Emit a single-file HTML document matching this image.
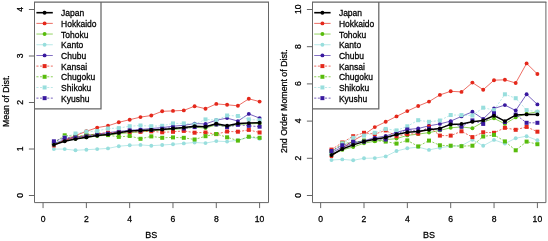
<!DOCTYPE html>
<html><head><meta charset="utf-8"><title>chart</title>
<style>
html,body{margin:0;padding:0;background:#fff;}
body{width:548px;height:241px;overflow:hidden;}
svg{display:block;will-change:transform;font-family:"Liberation Sans",sans-serif;fill:#000;} text{stroke:#000;stroke-width:0.26px;}
</style></head><body>
<svg width="548" height="241" viewBox="0 0 548 241">
<rect width="548" height="241" fill="#fff"/>
<polyline points="53.9,145.7 64.7,140.2 75.5,135.5 86.4,131.3 97.2,127.6 108.0,125.8 118.8,122.3 129.7,119.7 140.5,117.1 151.3,115.5 162.2,111.3 173.0,110.9 183.8,110.4 194.6,106.2 205.5,108.7 216.3,103.9 227.1,104.8 237.9,105.8 248.8,98.8 259.6,101.6" fill="none" stroke="#E4281B" stroke-width="0.8" opacity="0.85"/>
<circle cx="53.9" cy="145.7" r="1.95" fill="#E4281B"/>
<circle cx="64.7" cy="140.2" r="1.95" fill="#E4281B"/>
<circle cx="75.5" cy="135.5" r="1.95" fill="#E4281B"/>
<circle cx="86.4" cy="131.3" r="1.95" fill="#E4281B"/>
<circle cx="97.2" cy="127.6" r="1.95" fill="#E4281B"/>
<circle cx="108.0" cy="125.8" r="1.95" fill="#E4281B"/>
<circle cx="118.8" cy="122.3" r="1.95" fill="#E4281B"/>
<circle cx="129.7" cy="119.7" r="1.95" fill="#E4281B"/>
<circle cx="140.5" cy="117.1" r="1.95" fill="#E4281B"/>
<circle cx="151.3" cy="115.5" r="1.95" fill="#E4281B"/>
<circle cx="162.2" cy="111.3" r="1.95" fill="#E4281B"/>
<circle cx="173.0" cy="110.9" r="1.95" fill="#E4281B"/>
<circle cx="183.8" cy="110.4" r="1.95" fill="#E4281B"/>
<circle cx="194.6" cy="106.2" r="1.95" fill="#E4281B"/>
<circle cx="205.5" cy="108.7" r="1.95" fill="#E4281B"/>
<circle cx="216.3" cy="103.9" r="1.95" fill="#E4281B"/>
<circle cx="227.1" cy="104.8" r="1.95" fill="#E4281B"/>
<circle cx="237.9" cy="105.8" r="1.95" fill="#E4281B"/>
<circle cx="248.8" cy="98.8" r="1.95" fill="#E4281B"/>
<circle cx="259.6" cy="101.6" r="1.95" fill="#E4281B"/>
<polyline points="53.9,144.3 64.7,140.6 75.5,138.8 86.4,137.4 97.2,136.0 108.0,135.1 118.8,133.7 129.7,132.7 140.5,131.8 151.3,130.9 162.2,129.9 173.0,129.5 183.8,128.5 194.6,127.1 205.5,128.1 216.3,124.8 227.1,126.7 237.9,124.4 248.8,123.9 259.6,123.4" fill="none" stroke="#58BC0C" stroke-width="0.8" opacity="0.85"/>
<circle cx="53.9" cy="144.3" r="1.95" fill="#58BC0C"/>
<circle cx="64.7" cy="140.6" r="1.95" fill="#58BC0C"/>
<circle cx="75.5" cy="138.8" r="1.95" fill="#58BC0C"/>
<circle cx="86.4" cy="137.4" r="1.95" fill="#58BC0C"/>
<circle cx="97.2" cy="136.0" r="1.95" fill="#58BC0C"/>
<circle cx="108.0" cy="135.1" r="1.95" fill="#58BC0C"/>
<circle cx="118.8" cy="133.7" r="1.95" fill="#58BC0C"/>
<circle cx="129.7" cy="132.7" r="1.95" fill="#58BC0C"/>
<circle cx="140.5" cy="131.8" r="1.95" fill="#58BC0C"/>
<circle cx="151.3" cy="130.9" r="1.95" fill="#58BC0C"/>
<circle cx="162.2" cy="129.9" r="1.95" fill="#58BC0C"/>
<circle cx="173.0" cy="129.5" r="1.95" fill="#58BC0C"/>
<circle cx="183.8" cy="128.5" r="1.95" fill="#58BC0C"/>
<circle cx="194.6" cy="127.1" r="1.95" fill="#58BC0C"/>
<circle cx="205.5" cy="128.1" r="1.95" fill="#58BC0C"/>
<circle cx="216.3" cy="124.8" r="1.95" fill="#58BC0C"/>
<circle cx="227.1" cy="126.7" r="1.95" fill="#58BC0C"/>
<circle cx="237.9" cy="124.4" r="1.95" fill="#58BC0C"/>
<circle cx="248.8" cy="123.9" r="1.95" fill="#58BC0C"/>
<circle cx="259.6" cy="123.4" r="1.95" fill="#58BC0C"/>
<polyline points="53.9,149.1 64.7,149.1 75.5,150.3 86.4,149.7 97.2,149.1 108.0,148.4 118.8,146.2 129.7,145.3 140.5,144.9 151.3,145.7 162.2,145.0 173.0,144.3 183.8,143.4 194.6,142.5 205.5,143.1 216.3,141.1 227.1,141.6 237.9,140.3 248.8,137.0 259.6,138.7" fill="none" stroke="#98DEDD" stroke-width="0.8" opacity="0.85"/>
<circle cx="53.9" cy="149.1" r="1.95" fill="#98DEDD"/>
<circle cx="64.7" cy="149.1" r="1.95" fill="#98DEDD"/>
<circle cx="75.5" cy="150.3" r="1.95" fill="#98DEDD"/>
<circle cx="86.4" cy="149.7" r="1.95" fill="#98DEDD"/>
<circle cx="97.2" cy="149.1" r="1.95" fill="#98DEDD"/>
<circle cx="108.0" cy="148.4" r="1.95" fill="#98DEDD"/>
<circle cx="118.8" cy="146.2" r="1.95" fill="#98DEDD"/>
<circle cx="129.7" cy="145.3" r="1.95" fill="#98DEDD"/>
<circle cx="140.5" cy="144.9" r="1.95" fill="#98DEDD"/>
<circle cx="151.3" cy="145.7" r="1.95" fill="#98DEDD"/>
<circle cx="162.2" cy="145.0" r="1.95" fill="#98DEDD"/>
<circle cx="173.0" cy="144.3" r="1.95" fill="#98DEDD"/>
<circle cx="183.8" cy="143.4" r="1.95" fill="#98DEDD"/>
<circle cx="194.6" cy="142.5" r="1.95" fill="#98DEDD"/>
<circle cx="205.5" cy="143.1" r="1.95" fill="#98DEDD"/>
<circle cx="216.3" cy="141.1" r="1.95" fill="#98DEDD"/>
<circle cx="227.1" cy="141.6" r="1.95" fill="#98DEDD"/>
<circle cx="237.9" cy="140.3" r="1.95" fill="#98DEDD"/>
<circle cx="248.8" cy="137.0" r="1.95" fill="#98DEDD"/>
<circle cx="259.6" cy="138.7" r="1.95" fill="#98DEDD"/>
<polyline points="53.9,143.4 64.7,139.7 75.5,137.4 86.4,135.5 97.2,134.1 108.0,132.7 118.8,131.3 129.7,130.4 140.5,129.5 151.3,128.5 162.2,127.6 173.0,126.2 183.8,125.3 194.6,123.6 205.5,123.9 216.3,120.2 227.1,118.1 237.9,121.1 248.8,113.9 259.6,118.1" fill="none" stroke="#39199F" stroke-width="0.8" opacity="0.85"/>
<circle cx="53.9" cy="143.4" r="1.95" fill="#39199F"/>
<circle cx="64.7" cy="139.7" r="1.95" fill="#39199F"/>
<circle cx="75.5" cy="137.4" r="1.95" fill="#39199F"/>
<circle cx="86.4" cy="135.5" r="1.95" fill="#39199F"/>
<circle cx="97.2" cy="134.1" r="1.95" fill="#39199F"/>
<circle cx="108.0" cy="132.7" r="1.95" fill="#39199F"/>
<circle cx="118.8" cy="131.3" r="1.95" fill="#39199F"/>
<circle cx="129.7" cy="130.4" r="1.95" fill="#39199F"/>
<circle cx="140.5" cy="129.5" r="1.95" fill="#39199F"/>
<circle cx="151.3" cy="128.5" r="1.95" fill="#39199F"/>
<circle cx="162.2" cy="127.6" r="1.95" fill="#39199F"/>
<circle cx="173.0" cy="126.2" r="1.95" fill="#39199F"/>
<circle cx="183.8" cy="125.3" r="1.95" fill="#39199F"/>
<circle cx="194.6" cy="123.6" r="1.95" fill="#39199F"/>
<circle cx="205.5" cy="123.9" r="1.95" fill="#39199F"/>
<circle cx="216.3" cy="120.2" r="1.95" fill="#39199F"/>
<circle cx="227.1" cy="118.1" r="1.95" fill="#39199F"/>
<circle cx="237.9" cy="121.1" r="1.95" fill="#39199F"/>
<circle cx="248.8" cy="113.9" r="1.95" fill="#39199F"/>
<circle cx="259.6" cy="118.1" r="1.95" fill="#39199F"/>
<polyline points="53.9,145.3 64.7,140.2 75.5,137.4 86.4,135.5 97.2,133.7 108.0,132.7 118.8,132.3 129.7,131.8 140.5,131.8 151.3,131.3 162.2,132.3 173.0,131.8 183.8,130.9 194.6,132.7 205.5,132.5 216.3,134.1 227.1,131.5 237.9,131.7 248.8,129.9 259.6,132.5" fill="none" stroke="#E4281B" stroke-width="0.85" stroke-dasharray="2.1 1.5" opacity="0.8"/>
<rect x="51.9" y="143.3" width="4" height="4" fill="#E4281B"/>
<rect x="62.7" y="138.2" width="4" height="4" fill="#E4281B"/>
<rect x="73.5" y="135.4" width="4" height="4" fill="#E4281B"/>
<rect x="84.4" y="133.5" width="4" height="4" fill="#E4281B"/>
<rect x="95.2" y="131.7" width="4" height="4" fill="#E4281B"/>
<rect x="106.0" y="130.7" width="4" height="4" fill="#E4281B"/>
<rect x="116.8" y="130.3" width="4" height="4" fill="#E4281B"/>
<rect x="127.7" y="129.8" width="4" height="4" fill="#E4281B"/>
<rect x="138.5" y="129.8" width="4" height="4" fill="#E4281B"/>
<rect x="149.3" y="129.3" width="4" height="4" fill="#E4281B"/>
<rect x="160.2" y="130.3" width="4" height="4" fill="#E4281B"/>
<rect x="171.0" y="129.8" width="4" height="4" fill="#E4281B"/>
<rect x="181.8" y="128.9" width="4" height="4" fill="#E4281B"/>
<rect x="192.6" y="130.7" width="4" height="4" fill="#E4281B"/>
<rect x="203.5" y="130.5" width="4" height="4" fill="#E4281B"/>
<rect x="214.3" y="132.1" width="4" height="4" fill="#E4281B"/>
<rect x="225.1" y="129.5" width="4" height="4" fill="#E4281B"/>
<rect x="235.9" y="129.7" width="4" height="4" fill="#E4281B"/>
<rect x="246.8" y="127.9" width="4" height="4" fill="#E4281B"/>
<rect x="257.6" y="130.5" width="4" height="4" fill="#E4281B"/>
<polyline points="53.9,143.0 64.7,135.3 75.5,136.4 86.4,135.1 97.2,134.1 108.0,135.1 118.8,136.9 129.7,136.0 140.5,138.8 151.3,136.4 162.2,137.8 173.0,137.4 183.8,137.8 194.6,139.5 205.5,136.2 216.3,134.0 227.1,137.3 237.9,140.6 248.8,136.7 259.6,137.8" fill="none" stroke="#58BC0C" stroke-width="0.85" stroke-dasharray="2.1 1.5" opacity="0.8"/>
<rect x="51.9" y="141.0" width="4" height="4" fill="#58BC0C"/>
<rect x="62.7" y="133.3" width="4" height="4" fill="#58BC0C"/>
<rect x="73.5" y="134.4" width="4" height="4" fill="#58BC0C"/>
<rect x="84.4" y="133.1" width="4" height="4" fill="#58BC0C"/>
<rect x="95.2" y="132.1" width="4" height="4" fill="#58BC0C"/>
<rect x="106.0" y="133.1" width="4" height="4" fill="#58BC0C"/>
<rect x="116.8" y="134.9" width="4" height="4" fill="#58BC0C"/>
<rect x="127.7" y="134.0" width="4" height="4" fill="#58BC0C"/>
<rect x="138.5" y="136.8" width="4" height="4" fill="#58BC0C"/>
<rect x="149.3" y="134.4" width="4" height="4" fill="#58BC0C"/>
<rect x="160.2" y="135.8" width="4" height="4" fill="#58BC0C"/>
<rect x="171.0" y="135.4" width="4" height="4" fill="#58BC0C"/>
<rect x="181.8" y="135.8" width="4" height="4" fill="#58BC0C"/>
<rect x="192.6" y="137.5" width="4" height="4" fill="#58BC0C"/>
<rect x="203.5" y="134.2" width="4" height="4" fill="#58BC0C"/>
<rect x="214.3" y="132.0" width="4" height="4" fill="#58BC0C"/>
<rect x="225.1" y="135.3" width="4" height="4" fill="#58BC0C"/>
<rect x="235.9" y="138.6" width="4" height="4" fill="#58BC0C"/>
<rect x="246.8" y="134.7" width="4" height="4" fill="#58BC0C"/>
<rect x="257.6" y="135.8" width="4" height="4" fill="#58BC0C"/>
<polyline points="53.9,144.3 64.7,137.4 75.5,133.5 86.4,131.6 97.2,131.0 108.0,128.5 118.8,128.1 129.7,126.2 140.5,125.5 151.3,126.2 162.2,125.8 173.0,123.4 183.8,123.4 194.6,124.4 205.5,119.4 216.3,120.2 227.1,115.5 237.9,116.0 248.8,119.4 259.6,120.2" fill="none" stroke="#98DEDD" stroke-width="0.85" stroke-dasharray="2.1 1.5" opacity="0.8"/>
<rect x="51.9" y="142.3" width="4" height="4" fill="#98DEDD"/>
<rect x="62.7" y="135.4" width="4" height="4" fill="#98DEDD"/>
<rect x="73.5" y="131.5" width="4" height="4" fill="#98DEDD"/>
<rect x="84.4" y="129.6" width="4" height="4" fill="#98DEDD"/>
<rect x="95.2" y="129.0" width="4" height="4" fill="#98DEDD"/>
<rect x="106.0" y="126.5" width="4" height="4" fill="#98DEDD"/>
<rect x="116.8" y="126.1" width="4" height="4" fill="#98DEDD"/>
<rect x="127.7" y="124.2" width="4" height="4" fill="#98DEDD"/>
<rect x="138.5" y="123.5" width="4" height="4" fill="#98DEDD"/>
<rect x="149.3" y="124.2" width="4" height="4" fill="#98DEDD"/>
<rect x="160.2" y="123.8" width="4" height="4" fill="#98DEDD"/>
<rect x="171.0" y="121.4" width="4" height="4" fill="#98DEDD"/>
<rect x="181.8" y="121.4" width="4" height="4" fill="#98DEDD"/>
<rect x="192.6" y="122.4" width="4" height="4" fill="#98DEDD"/>
<rect x="203.5" y="117.4" width="4" height="4" fill="#98DEDD"/>
<rect x="214.3" y="118.2" width="4" height="4" fill="#98DEDD"/>
<rect x="225.1" y="113.5" width="4" height="4" fill="#98DEDD"/>
<rect x="235.9" y="114.0" width="4" height="4" fill="#98DEDD"/>
<rect x="246.8" y="117.4" width="4" height="4" fill="#98DEDD"/>
<rect x="257.6" y="118.2" width="4" height="4" fill="#98DEDD"/>
<polyline points="53.9,141.3 64.7,137.8 75.5,137.5 86.4,136.4 97.2,135.1 108.0,133.7 118.8,132.3 129.7,130.4 140.5,130.4 151.3,130.0 162.2,128.7 173.0,127.6 183.8,128.5 194.6,127.1 205.5,126.2 216.3,124.4 227.1,127.1 237.9,124.8 248.8,125.8 259.6,126.7" fill="none" stroke="#39199F" stroke-width="0.85" stroke-dasharray="2.1 1.5" opacity="0.8"/>
<rect x="51.9" y="139.3" width="4" height="4" fill="#39199F"/>
<rect x="62.7" y="135.8" width="4" height="4" fill="#39199F"/>
<rect x="73.5" y="135.5" width="4" height="4" fill="#39199F"/>
<rect x="84.4" y="134.4" width="4" height="4" fill="#39199F"/>
<rect x="95.2" y="133.1" width="4" height="4" fill="#39199F"/>
<rect x="106.0" y="131.7" width="4" height="4" fill="#39199F"/>
<rect x="116.8" y="130.3" width="4" height="4" fill="#39199F"/>
<rect x="127.7" y="128.4" width="4" height="4" fill="#39199F"/>
<rect x="138.5" y="128.4" width="4" height="4" fill="#39199F"/>
<rect x="149.3" y="128.0" width="4" height="4" fill="#39199F"/>
<rect x="160.2" y="126.7" width="4" height="4" fill="#39199F"/>
<rect x="171.0" y="125.6" width="4" height="4" fill="#39199F"/>
<rect x="181.8" y="126.5" width="4" height="4" fill="#39199F"/>
<rect x="192.6" y="125.1" width="4" height="4" fill="#39199F"/>
<rect x="203.5" y="124.2" width="4" height="4" fill="#39199F"/>
<rect x="214.3" y="122.4" width="4" height="4" fill="#39199F"/>
<rect x="225.1" y="125.1" width="4" height="4" fill="#39199F"/>
<rect x="235.9" y="122.8" width="4" height="4" fill="#39199F"/>
<rect x="246.8" y="123.8" width="4" height="4" fill="#39199F"/>
<rect x="257.6" y="124.7" width="4" height="4" fill="#39199F"/>
<polyline points="53.9,144.8 64.7,141.3 75.5,139.1 86.4,137.2 97.2,135.6 108.0,134.4 118.8,132.7 129.7,131.1 140.5,130.6 151.3,130.0 162.2,129.5 173.0,128.5 183.8,127.6 194.6,126.2 205.5,126.7 216.3,123.7 227.1,125.8 237.9,123.4 248.8,123.1 259.6,122.8" fill="none" stroke="#000000" stroke-width="1.5" stroke-linejoin="round"/>
<circle cx="53.9" cy="144.8" r="1.95" fill="#000000"/>
<circle cx="64.7" cy="141.3" r="1.95" fill="#000000"/>
<circle cx="75.5" cy="139.1" r="1.95" fill="#000000"/>
<circle cx="86.4" cy="137.2" r="1.95" fill="#000000"/>
<circle cx="97.2" cy="135.6" r="1.95" fill="#000000"/>
<circle cx="108.0" cy="134.4" r="1.95" fill="#000000"/>
<circle cx="118.8" cy="132.7" r="1.95" fill="#000000"/>
<circle cx="129.7" cy="131.1" r="1.95" fill="#000000"/>
<circle cx="140.5" cy="130.6" r="1.95" fill="#000000"/>
<circle cx="151.3" cy="130.0" r="1.95" fill="#000000"/>
<circle cx="162.2" cy="129.5" r="1.95" fill="#000000"/>
<circle cx="173.0" cy="128.5" r="1.95" fill="#000000"/>
<circle cx="183.8" cy="127.6" r="1.95" fill="#000000"/>
<circle cx="194.6" cy="126.2" r="1.95" fill="#000000"/>
<circle cx="205.5" cy="126.7" r="1.95" fill="#000000"/>
<circle cx="216.3" cy="123.7" r="1.95" fill="#000000"/>
<circle cx="227.1" cy="125.8" r="1.95" fill="#000000"/>
<circle cx="237.9" cy="123.4" r="1.95" fill="#000000"/>
<circle cx="248.8" cy="123.1" r="1.95" fill="#000000"/>
<circle cx="259.6" cy="122.8" r="1.95" fill="#000000"/>
<rect x="34.50" y="2.0" width="66.50" height="106.90" fill="#fff" stroke="none"/>
<path d="M101.00,2.0 V108.90 H34.50" fill="none" stroke="#666" stroke-width="1.25"/>
<line x1="36.4" y1="12.70" x2="52.8" y2="12.70" stroke="#000000" stroke-width="1.6"/>
<circle cx="44.60" cy="12.70" r="1.95" fill="#000000"/>
<text x="61.10" y="16.25" font-size="8.5">Japan</text>
<line x1="36.4" y1="23.38" x2="52.8" y2="23.38" stroke="#E4281B" stroke-width="0.8" opacity="0.85"/>
<circle cx="44.60" cy="23.38" r="1.95" fill="#E4281B"/>
<text x="61.10" y="26.93" font-size="8.5">Hokkaido</text>
<line x1="36.4" y1="34.06" x2="52.8" y2="34.06" stroke="#58BC0C" stroke-width="1.6" opacity="0.4"/>
<circle cx="44.60" cy="34.06" r="1.95" fill="#58BC0C"/>
<text x="61.10" y="37.61" font-size="8.5">Tohoku</text>
<line x1="36.4" y1="44.74" x2="52.8" y2="44.74" stroke="#98DEDD" stroke-width="0.8" opacity="0.85"/>
<circle cx="44.60" cy="44.74" r="1.95" fill="#98DEDD"/>
<text x="61.10" y="48.29" font-size="8.5">Kanto</text>
<line x1="36.4" y1="55.42" x2="52.8" y2="55.42" stroke="#39199F" stroke-width="0.8" opacity="0.85"/>
<circle cx="44.60" cy="55.42" r="1.95" fill="#39199F"/>
<text x="61.10" y="58.97" font-size="8.5">Chubu</text>
<line x1="36.4" y1="66.10" x2="52.8" y2="66.10" stroke="#E4281B" stroke-width="0.85" stroke-dasharray="2.1 1.5" opacity="0.8"/>
<rect x="42.60" y="64.10" width="4" height="4" fill="#E4281B"/>
<text x="61.10" y="69.65" font-size="8.5">Kansai</text>
<line x1="36.4" y1="76.78" x2="52.8" y2="76.78" stroke="#58BC0C" stroke-width="0.85" stroke-dasharray="2.1 1.5" opacity="0.8"/>
<rect x="42.60" y="74.78" width="4" height="4" fill="#58BC0C"/>
<text x="61.10" y="80.33" font-size="8.5">Chugoku</text>
<line x1="36.4" y1="87.46" x2="52.8" y2="87.46" stroke="#98DEDD" stroke-width="0.85" stroke-dasharray="2.1 1.5" opacity="0.8"/>
<rect x="42.60" y="85.46" width="4" height="4" fill="#98DEDD"/>
<text x="61.10" y="91.01" font-size="8.5">Shikoku</text>
<line x1="36.4" y1="98.14" x2="52.8" y2="98.14" stroke="#39199F" stroke-width="0.85" stroke-dasharray="2.1 1.5" opacity="0.8"/>
<rect x="42.60" y="96.14" width="4" height="4" fill="#39199F"/>
<text x="61.10" y="101.69" font-size="8.5">Kyushu</text>
<path d="M34.5,2.0 V202.6 H268.5 V2.0" fill="none" stroke="#666" stroke-width="1"/>
<line x1="34.0" y1="2.0" x2="269.0" y2="2.0" stroke="#666" stroke-width="1.25"/>
<line x1="43.05" y1="202.6" x2="43.05" y2="208.1" stroke="#666" stroke-width="1"/>
<text x="43.05" y="221.5" font-size="8.6" text-anchor="middle">0</text>
<line x1="86.36" y1="202.6" x2="86.36" y2="208.1" stroke="#666" stroke-width="1"/>
<text x="86.36" y="221.5" font-size="8.6" text-anchor="middle">2</text>
<line x1="129.67" y1="202.6" x2="129.67" y2="208.1" stroke="#666" stroke-width="1"/>
<text x="129.67" y="221.5" font-size="8.6" text-anchor="middle">4</text>
<line x1="172.98" y1="202.6" x2="172.98" y2="208.1" stroke="#666" stroke-width="1"/>
<text x="172.98" y="221.5" font-size="8.6" text-anchor="middle">6</text>
<line x1="216.29" y1="202.6" x2="216.29" y2="208.1" stroke="#666" stroke-width="1"/>
<text x="216.29" y="221.5" font-size="8.6" text-anchor="middle">8</text>
<line x1="259.60" y1="202.6" x2="259.60" y2="208.1" stroke="#666" stroke-width="1"/>
<text x="259.60" y="221.5" font-size="8.6" text-anchor="middle">10</text>
<line x1="28.90" y1="195.50" x2="34.50" y2="195.50" stroke="#666" stroke-width="1"/>
<text transform="translate(23.30,195.30) rotate(-90)" font-size="8.6" text-anchor="middle">0</text>
<line x1="28.90" y1="149.00" x2="34.50" y2="149.00" stroke="#666" stroke-width="1"/>
<text transform="translate(23.30,148.80) rotate(-90)" font-size="8.6" text-anchor="middle">1</text>
<line x1="28.90" y1="102.50" x2="34.50" y2="102.50" stroke="#666" stroke-width="1"/>
<text transform="translate(23.30,102.30) rotate(-90)" font-size="8.6" text-anchor="middle">2</text>
<line x1="28.90" y1="56.00" x2="34.50" y2="56.00" stroke="#666" stroke-width="1"/>
<text transform="translate(23.30,55.80) rotate(-90)" font-size="8.6" text-anchor="middle">3</text>
<line x1="28.90" y1="9.50" x2="34.50" y2="9.50" stroke="#666" stroke-width="1"/>
<text transform="translate(23.30,9.30) rotate(-90)" font-size="8.6" text-anchor="middle">4</text>
<text x="151.30" y="237.8" font-size="9" text-anchor="middle">BS</text>
<text transform="translate(9.00,101.10) rotate(-90)" font-size="8.8" text-anchor="middle">Mean of Dist.</text>
<polyline points="331.5,156.4 342.3,148.1 353.2,140.6 364.0,134.7 374.8,127.1 385.7,121.8 396.5,116.4 407.3,111.1 418.2,106.0 429.0,101.6 439.9,94.9 450.7,91.3 461.5,91.9 472.4,82.6 483.2,89.7 494.0,80.2 504.9,79.8 515.7,83.0 526.6,63.4 537.4,74.0" fill="none" stroke="#E4281B" stroke-width="0.8" opacity="0.85"/>
<circle cx="331.5" cy="156.4" r="1.95" fill="#E4281B"/>
<circle cx="342.3" cy="148.1" r="1.95" fill="#E4281B"/>
<circle cx="353.2" cy="140.6" r="1.95" fill="#E4281B"/>
<circle cx="364.0" cy="134.7" r="1.95" fill="#E4281B"/>
<circle cx="374.8" cy="127.1" r="1.95" fill="#E4281B"/>
<circle cx="385.7" cy="121.8" r="1.95" fill="#E4281B"/>
<circle cx="396.5" cy="116.4" r="1.95" fill="#E4281B"/>
<circle cx="407.3" cy="111.1" r="1.95" fill="#E4281B"/>
<circle cx="418.2" cy="106.0" r="1.95" fill="#E4281B"/>
<circle cx="429.0" cy="101.6" r="1.95" fill="#E4281B"/>
<circle cx="439.9" cy="94.9" r="1.95" fill="#E4281B"/>
<circle cx="450.7" cy="91.3" r="1.95" fill="#E4281B"/>
<circle cx="461.5" cy="91.9" r="1.95" fill="#E4281B"/>
<circle cx="472.4" cy="82.6" r="1.95" fill="#E4281B"/>
<circle cx="483.2" cy="89.7" r="1.95" fill="#E4281B"/>
<circle cx="494.0" cy="80.2" r="1.95" fill="#E4281B"/>
<circle cx="504.9" cy="79.8" r="1.95" fill="#E4281B"/>
<circle cx="515.7" cy="83.0" r="1.95" fill="#E4281B"/>
<circle cx="526.6" cy="63.4" r="1.95" fill="#E4281B"/>
<circle cx="537.4" cy="74.0" r="1.95" fill="#E4281B"/>
<polyline points="331.5,154.6 342.3,149.9 353.2,147.0 364.0,143.2 374.8,141.2 385.7,139.7 396.5,138.6 407.3,135.4 418.2,134.1 429.0,132.6 439.9,130.4 450.7,127.8 461.5,126.9 472.4,128.2 483.2,122.0 494.0,118.3 504.9,123.9 515.7,117.4 526.6,113.7 537.4,111.8" fill="none" stroke="#58BC0C" stroke-width="0.8" opacity="0.85"/>
<circle cx="331.5" cy="154.6" r="1.95" fill="#58BC0C"/>
<circle cx="342.3" cy="149.9" r="1.95" fill="#58BC0C"/>
<circle cx="353.2" cy="147.0" r="1.95" fill="#58BC0C"/>
<circle cx="364.0" cy="143.2" r="1.95" fill="#58BC0C"/>
<circle cx="374.8" cy="141.2" r="1.95" fill="#58BC0C"/>
<circle cx="385.7" cy="139.7" r="1.95" fill="#58BC0C"/>
<circle cx="396.5" cy="138.6" r="1.95" fill="#58BC0C"/>
<circle cx="407.3" cy="135.4" r="1.95" fill="#58BC0C"/>
<circle cx="418.2" cy="134.1" r="1.95" fill="#58BC0C"/>
<circle cx="429.0" cy="132.6" r="1.95" fill="#58BC0C"/>
<circle cx="439.9" cy="130.4" r="1.95" fill="#58BC0C"/>
<circle cx="450.7" cy="127.8" r="1.95" fill="#58BC0C"/>
<circle cx="461.5" cy="126.9" r="1.95" fill="#58BC0C"/>
<circle cx="472.4" cy="128.2" r="1.95" fill="#58BC0C"/>
<circle cx="483.2" cy="122.0" r="1.95" fill="#58BC0C"/>
<circle cx="494.0" cy="118.3" r="1.95" fill="#58BC0C"/>
<circle cx="504.9" cy="123.9" r="1.95" fill="#58BC0C"/>
<circle cx="515.7" cy="117.4" r="1.95" fill="#58BC0C"/>
<circle cx="526.6" cy="113.7" r="1.95" fill="#58BC0C"/>
<circle cx="537.4" cy="111.8" r="1.95" fill="#58BC0C"/>
<polyline points="331.5,160.0 342.3,159.4 353.2,160.3 364.0,158.3 374.8,158.1 385.7,156.4 396.5,151.0 407.3,148.3 418.2,147.1 429.0,149.9 439.9,147.7 450.7,146.2 461.5,145.7 472.4,139.7 483.2,145.8 494.0,139.9 504.9,143.6 515.7,138.2 526.6,136.2 537.4,140.3" fill="none" stroke="#98DEDD" stroke-width="0.8" opacity="0.85"/>
<circle cx="331.5" cy="160.0" r="1.95" fill="#98DEDD"/>
<circle cx="342.3" cy="159.4" r="1.95" fill="#98DEDD"/>
<circle cx="353.2" cy="160.3" r="1.95" fill="#98DEDD"/>
<circle cx="364.0" cy="158.3" r="1.95" fill="#98DEDD"/>
<circle cx="374.8" cy="158.1" r="1.95" fill="#98DEDD"/>
<circle cx="385.7" cy="156.4" r="1.95" fill="#98DEDD"/>
<circle cx="396.5" cy="151.0" r="1.95" fill="#98DEDD"/>
<circle cx="407.3" cy="148.3" r="1.95" fill="#98DEDD"/>
<circle cx="418.2" cy="147.1" r="1.95" fill="#98DEDD"/>
<circle cx="429.0" cy="149.9" r="1.95" fill="#98DEDD"/>
<circle cx="439.9" cy="147.7" r="1.95" fill="#98DEDD"/>
<circle cx="450.7" cy="146.2" r="1.95" fill="#98DEDD"/>
<circle cx="461.5" cy="145.7" r="1.95" fill="#98DEDD"/>
<circle cx="472.4" cy="139.7" r="1.95" fill="#98DEDD"/>
<circle cx="483.2" cy="145.8" r="1.95" fill="#98DEDD"/>
<circle cx="494.0" cy="139.9" r="1.95" fill="#98DEDD"/>
<circle cx="504.9" cy="143.6" r="1.95" fill="#98DEDD"/>
<circle cx="515.7" cy="138.2" r="1.95" fill="#98DEDD"/>
<circle cx="526.6" cy="136.2" r="1.95" fill="#98DEDD"/>
<circle cx="537.4" cy="140.3" r="1.95" fill="#98DEDD"/>
<polyline points="331.5,152.7 342.3,147.1 353.2,143.4 364.0,140.6 374.8,137.8 385.7,136.0 396.5,132.3 407.3,129.5 418.2,128.5 429.0,125.8 439.9,123.9 450.7,121.1 461.5,116.4 472.4,111.8 483.2,118.9 494.0,108.5 504.9,105.1 515.7,110.5 526.6,94.3 537.4,104.4" fill="none" stroke="#39199F" stroke-width="0.8" opacity="0.85"/>
<circle cx="331.5" cy="152.7" r="1.95" fill="#39199F"/>
<circle cx="342.3" cy="147.1" r="1.95" fill="#39199F"/>
<circle cx="353.2" cy="143.4" r="1.95" fill="#39199F"/>
<circle cx="364.0" cy="140.6" r="1.95" fill="#39199F"/>
<circle cx="374.8" cy="137.8" r="1.95" fill="#39199F"/>
<circle cx="385.7" cy="136.0" r="1.95" fill="#39199F"/>
<circle cx="396.5" cy="132.3" r="1.95" fill="#39199F"/>
<circle cx="407.3" cy="129.5" r="1.95" fill="#39199F"/>
<circle cx="418.2" cy="128.5" r="1.95" fill="#39199F"/>
<circle cx="429.0" cy="125.8" r="1.95" fill="#39199F"/>
<circle cx="439.9" cy="123.9" r="1.95" fill="#39199F"/>
<circle cx="450.7" cy="121.1" r="1.95" fill="#39199F"/>
<circle cx="461.5" cy="116.4" r="1.95" fill="#39199F"/>
<circle cx="472.4" cy="111.8" r="1.95" fill="#39199F"/>
<circle cx="483.2" cy="118.9" r="1.95" fill="#39199F"/>
<circle cx="494.0" cy="108.5" r="1.95" fill="#39199F"/>
<circle cx="504.9" cy="105.1" r="1.95" fill="#39199F"/>
<circle cx="515.7" cy="110.5" r="1.95" fill="#39199F"/>
<circle cx="526.6" cy="94.3" r="1.95" fill="#39199F"/>
<circle cx="537.4" cy="104.4" r="1.95" fill="#39199F"/>
<polyline points="331.5,149.6 342.3,142.5 353.2,136.2 364.0,132.8 374.8,134.1 385.7,130.4 396.5,136.2 407.3,134.1 418.2,133.6 429.0,126.7 439.9,135.6 450.7,135.6 461.5,131.3 472.4,137.1 483.2,132.3 494.0,132.8 504.9,127.8 515.7,129.8 526.6,126.9 537.4,131.7" fill="none" stroke="#E4281B" stroke-width="0.85" stroke-dasharray="2.1 1.5" opacity="0.8"/>
<rect x="329.5" y="147.6" width="4" height="4" fill="#E4281B"/>
<rect x="340.3" y="140.5" width="4" height="4" fill="#E4281B"/>
<rect x="351.2" y="134.2" width="4" height="4" fill="#E4281B"/>
<rect x="362.0" y="130.8" width="4" height="4" fill="#E4281B"/>
<rect x="372.8" y="132.1" width="4" height="4" fill="#E4281B"/>
<rect x="383.7" y="128.4" width="4" height="4" fill="#E4281B"/>
<rect x="394.5" y="134.2" width="4" height="4" fill="#E4281B"/>
<rect x="405.3" y="132.1" width="4" height="4" fill="#E4281B"/>
<rect x="416.2" y="131.6" width="4" height="4" fill="#E4281B"/>
<rect x="427.0" y="124.7" width="4" height="4" fill="#E4281B"/>
<rect x="437.9" y="133.6" width="4" height="4" fill="#E4281B"/>
<rect x="448.7" y="133.6" width="4" height="4" fill="#E4281B"/>
<rect x="459.5" y="129.3" width="4" height="4" fill="#E4281B"/>
<rect x="470.4" y="135.1" width="4" height="4" fill="#E4281B"/>
<rect x="481.2" y="130.3" width="4" height="4" fill="#E4281B"/>
<rect x="492.0" y="130.8" width="4" height="4" fill="#E4281B"/>
<rect x="502.9" y="125.8" width="4" height="4" fill="#E4281B"/>
<rect x="513.7" y="127.8" width="4" height="4" fill="#E4281B"/>
<rect x="524.6" y="124.9" width="4" height="4" fill="#E4281B"/>
<rect x="535.4" y="129.7" width="4" height="4" fill="#E4281B"/>
<polyline points="331.5,151.8 342.3,143.4 353.2,142.5 364.0,140.6 374.8,140.6 385.7,141.6 396.5,143.6 407.3,140.4 418.2,146.4 429.0,140.6 439.9,145.3 450.7,145.7 461.5,146.2 472.4,145.7 483.2,136.5 494.0,134.9 504.9,141.4 515.7,150.3 526.6,141.6 537.4,144.2" fill="none" stroke="#58BC0C" stroke-width="0.85" stroke-dasharray="2.1 1.5" opacity="0.8"/>
<rect x="329.5" y="149.8" width="4" height="4" fill="#58BC0C"/>
<rect x="340.3" y="141.4" width="4" height="4" fill="#58BC0C"/>
<rect x="351.2" y="140.5" width="4" height="4" fill="#58BC0C"/>
<rect x="362.0" y="138.6" width="4" height="4" fill="#58BC0C"/>
<rect x="372.8" y="138.6" width="4" height="4" fill="#58BC0C"/>
<rect x="383.7" y="139.6" width="4" height="4" fill="#58BC0C"/>
<rect x="394.5" y="141.6" width="4" height="4" fill="#58BC0C"/>
<rect x="405.3" y="138.4" width="4" height="4" fill="#58BC0C"/>
<rect x="416.2" y="144.4" width="4" height="4" fill="#58BC0C"/>
<rect x="427.0" y="138.6" width="4" height="4" fill="#58BC0C"/>
<rect x="437.9" y="143.3" width="4" height="4" fill="#58BC0C"/>
<rect x="448.7" y="143.7" width="4" height="4" fill="#58BC0C"/>
<rect x="459.5" y="144.2" width="4" height="4" fill="#58BC0C"/>
<rect x="470.4" y="143.7" width="4" height="4" fill="#58BC0C"/>
<rect x="481.2" y="134.5" width="4" height="4" fill="#58BC0C"/>
<rect x="492.0" y="132.9" width="4" height="4" fill="#58BC0C"/>
<rect x="502.9" y="139.4" width="4" height="4" fill="#58BC0C"/>
<rect x="513.7" y="148.3" width="4" height="4" fill="#58BC0C"/>
<rect x="524.6" y="139.6" width="4" height="4" fill="#58BC0C"/>
<rect x="535.4" y="142.2" width="4" height="4" fill="#58BC0C"/>
<polyline points="331.5,153.7 342.3,143.4 353.2,137.8 364.0,135.6 374.8,132.8 385.7,128.9 396.5,130.4 407.3,126.3 418.2,120.2 429.0,121.8 439.9,120.5 450.7,115.0 461.5,115.1 472.4,115.5 483.2,107.7 494.0,110.1 504.9,94.3 515.7,98.2 526.6,110.1 537.4,111.8" fill="none" stroke="#98DEDD" stroke-width="0.85" stroke-dasharray="2.1 1.5" opacity="0.8"/>
<rect x="329.5" y="151.7" width="4" height="4" fill="#98DEDD"/>
<rect x="340.3" y="141.4" width="4" height="4" fill="#98DEDD"/>
<rect x="351.2" y="135.8" width="4" height="4" fill="#98DEDD"/>
<rect x="362.0" y="133.6" width="4" height="4" fill="#98DEDD"/>
<rect x="372.8" y="130.8" width="4" height="4" fill="#98DEDD"/>
<rect x="383.7" y="126.9" width="4" height="4" fill="#98DEDD"/>
<rect x="394.5" y="128.4" width="4" height="4" fill="#98DEDD"/>
<rect x="405.3" y="124.3" width="4" height="4" fill="#98DEDD"/>
<rect x="416.2" y="118.2" width="4" height="4" fill="#98DEDD"/>
<rect x="427.0" y="119.8" width="4" height="4" fill="#98DEDD"/>
<rect x="437.9" y="118.5" width="4" height="4" fill="#98DEDD"/>
<rect x="448.7" y="113.0" width="4" height="4" fill="#98DEDD"/>
<rect x="459.5" y="113.1" width="4" height="4" fill="#98DEDD"/>
<rect x="470.4" y="113.5" width="4" height="4" fill="#98DEDD"/>
<rect x="481.2" y="105.7" width="4" height="4" fill="#98DEDD"/>
<rect x="492.0" y="108.1" width="4" height="4" fill="#98DEDD"/>
<rect x="502.9" y="92.3" width="4" height="4" fill="#98DEDD"/>
<rect x="513.7" y="96.2" width="4" height="4" fill="#98DEDD"/>
<rect x="524.6" y="108.1" width="4" height="4" fill="#98DEDD"/>
<rect x="535.4" y="109.8" width="4" height="4" fill="#98DEDD"/>
<polyline points="331.5,151.0 342.3,145.3 353.2,141.9 364.0,141.6 374.8,138.8 385.7,139.5 396.5,134.1 407.3,129.5 418.2,131.3 429.0,128.5 439.9,129.5 450.7,123.0 461.5,126.7 472.4,120.4 483.2,123.9 494.0,113.3 504.9,122.0 515.7,114.6 526.6,122.8 537.4,122.8" fill="none" stroke="#39199F" stroke-width="0.85" stroke-dasharray="2.1 1.5" opacity="0.8"/>
<rect x="329.5" y="149.0" width="4" height="4" fill="#39199F"/>
<rect x="340.3" y="143.3" width="4" height="4" fill="#39199F"/>
<rect x="351.2" y="139.9" width="4" height="4" fill="#39199F"/>
<rect x="362.0" y="139.6" width="4" height="4" fill="#39199F"/>
<rect x="372.8" y="136.8" width="4" height="4" fill="#39199F"/>
<rect x="383.7" y="137.5" width="4" height="4" fill="#39199F"/>
<rect x="394.5" y="132.1" width="4" height="4" fill="#39199F"/>
<rect x="405.3" y="127.5" width="4" height="4" fill="#39199F"/>
<rect x="416.2" y="129.3" width="4" height="4" fill="#39199F"/>
<rect x="427.0" y="126.5" width="4" height="4" fill="#39199F"/>
<rect x="437.9" y="127.5" width="4" height="4" fill="#39199F"/>
<rect x="448.7" y="121.0" width="4" height="4" fill="#39199F"/>
<rect x="459.5" y="124.7" width="4" height="4" fill="#39199F"/>
<rect x="470.4" y="118.4" width="4" height="4" fill="#39199F"/>
<rect x="481.2" y="121.9" width="4" height="4" fill="#39199F"/>
<rect x="492.0" y="111.3" width="4" height="4" fill="#39199F"/>
<rect x="502.9" y="120.0" width="4" height="4" fill="#39199F"/>
<rect x="513.7" y="112.6" width="4" height="4" fill="#39199F"/>
<rect x="524.6" y="120.8" width="4" height="4" fill="#39199F"/>
<rect x="535.4" y="120.8" width="4" height="4" fill="#39199F"/>
<polyline points="331.5,155.0 342.3,149.0 353.2,144.9 364.0,141.6 374.8,139.3 385.7,137.5 396.5,134.5 407.3,132.3 418.2,131.5 429.0,129.8 439.9,128.4 450.7,124.4 461.5,123.9 472.4,121.7 483.2,120.4 494.0,115.7 504.9,121.1 515.7,115.1 526.6,114.4 537.4,114.4" fill="none" stroke="#000000" stroke-width="1.5" stroke-linejoin="round"/>
<circle cx="331.5" cy="155.0" r="1.95" fill="#000000"/>
<circle cx="342.3" cy="149.0" r="1.95" fill="#000000"/>
<circle cx="353.2" cy="144.9" r="1.95" fill="#000000"/>
<circle cx="364.0" cy="141.6" r="1.95" fill="#000000"/>
<circle cx="374.8" cy="139.3" r="1.95" fill="#000000"/>
<circle cx="385.7" cy="137.5" r="1.95" fill="#000000"/>
<circle cx="396.5" cy="134.5" r="1.95" fill="#000000"/>
<circle cx="407.3" cy="132.3" r="1.95" fill="#000000"/>
<circle cx="418.2" cy="131.5" r="1.95" fill="#000000"/>
<circle cx="429.0" cy="129.8" r="1.95" fill="#000000"/>
<circle cx="439.9" cy="128.4" r="1.95" fill="#000000"/>
<circle cx="450.7" cy="124.4" r="1.95" fill="#000000"/>
<circle cx="461.5" cy="123.9" r="1.95" fill="#000000"/>
<circle cx="472.4" cy="121.7" r="1.95" fill="#000000"/>
<circle cx="483.2" cy="120.4" r="1.95" fill="#000000"/>
<circle cx="494.0" cy="115.7" r="1.95" fill="#000000"/>
<circle cx="504.9" cy="121.1" r="1.95" fill="#000000"/>
<circle cx="515.7" cy="115.1" r="1.95" fill="#000000"/>
<circle cx="526.6" cy="114.4" r="1.95" fill="#000000"/>
<circle cx="537.4" cy="114.4" r="1.95" fill="#000000"/>
<rect x="312.50" y="2.0" width="66.30" height="106.90" fill="#fff" stroke="none"/>
<path d="M378.80,2.0 V108.90 H312.50" fill="none" stroke="#666" stroke-width="1.25"/>
<line x1="314.2" y1="12.70" x2="330.6" y2="12.70" stroke="#000000" stroke-width="1.6"/>
<circle cx="322.40" cy="12.70" r="1.95" fill="#000000"/>
<text x="338.90" y="16.25" font-size="8.5">Japan</text>
<line x1="314.2" y1="23.38" x2="330.6" y2="23.38" stroke="#E4281B" stroke-width="0.8" opacity="0.85"/>
<circle cx="322.40" cy="23.38" r="1.95" fill="#E4281B"/>
<text x="338.90" y="26.93" font-size="8.5">Hokkaido</text>
<line x1="314.2" y1="34.06" x2="330.6" y2="34.06" stroke="#58BC0C" stroke-width="1.6" opacity="0.4"/>
<circle cx="322.40" cy="34.06" r="1.95" fill="#58BC0C"/>
<text x="338.90" y="37.61" font-size="8.5">Tohoku</text>
<line x1="314.2" y1="44.74" x2="330.6" y2="44.74" stroke="#98DEDD" stroke-width="0.8" opacity="0.85"/>
<circle cx="322.40" cy="44.74" r="1.95" fill="#98DEDD"/>
<text x="338.90" y="48.29" font-size="8.5">Kanto</text>
<line x1="314.2" y1="55.42" x2="330.6" y2="55.42" stroke="#39199F" stroke-width="0.8" opacity="0.85"/>
<circle cx="322.40" cy="55.42" r="1.95" fill="#39199F"/>
<text x="338.90" y="58.97" font-size="8.5">Chubu</text>
<line x1="314.2" y1="66.10" x2="330.6" y2="66.10" stroke="#E4281B" stroke-width="0.85" stroke-dasharray="2.1 1.5" opacity="0.8"/>
<rect x="320.40" y="64.10" width="4" height="4" fill="#E4281B"/>
<text x="338.90" y="69.65" font-size="8.5">Kansai</text>
<line x1="314.2" y1="76.78" x2="330.6" y2="76.78" stroke="#58BC0C" stroke-width="0.85" stroke-dasharray="2.1 1.5" opacity="0.8"/>
<rect x="320.40" y="74.78" width="4" height="4" fill="#58BC0C"/>
<text x="338.90" y="80.33" font-size="8.5">Chugoku</text>
<line x1="314.2" y1="87.46" x2="330.6" y2="87.46" stroke="#98DEDD" stroke-width="0.85" stroke-dasharray="2.1 1.5" opacity="0.8"/>
<rect x="320.40" y="85.46" width="4" height="4" fill="#98DEDD"/>
<text x="338.90" y="91.01" font-size="8.5">Shikoku</text>
<line x1="314.2" y1="98.14" x2="330.6" y2="98.14" stroke="#39199F" stroke-width="0.85" stroke-dasharray="2.1 1.5" opacity="0.8"/>
<rect x="320.40" y="96.14" width="4" height="4" fill="#39199F"/>
<text x="338.90" y="101.69" font-size="8.5">Kyushu</text>
<path d="M312.5,2.0 V202.6 H545.9 V2.0" fill="none" stroke="#666" stroke-width="1"/>
<line x1="312.0" y1="2.0" x2="546.4" y2="2.0" stroke="#666" stroke-width="1.25"/>
<line x1="320.65" y1="202.6" x2="320.65" y2="208.1" stroke="#666" stroke-width="1"/>
<text x="320.65" y="221.5" font-size="8.6" text-anchor="middle">0</text>
<line x1="364.00" y1="202.6" x2="364.00" y2="208.1" stroke="#666" stroke-width="1"/>
<text x="364.00" y="221.5" font-size="8.6" text-anchor="middle">2</text>
<line x1="407.35" y1="202.6" x2="407.35" y2="208.1" stroke="#666" stroke-width="1"/>
<text x="407.35" y="221.5" font-size="8.6" text-anchor="middle">4</text>
<line x1="450.70" y1="202.6" x2="450.70" y2="208.1" stroke="#666" stroke-width="1"/>
<text x="450.70" y="221.5" font-size="8.6" text-anchor="middle">6</text>
<line x1="494.05" y1="202.6" x2="494.05" y2="208.1" stroke="#666" stroke-width="1"/>
<text x="494.05" y="221.5" font-size="8.6" text-anchor="middle">8</text>
<line x1="537.40" y1="202.6" x2="537.40" y2="208.1" stroke="#666" stroke-width="1"/>
<text x="537.40" y="221.5" font-size="8.6" text-anchor="middle">10</text>
<line x1="306.90" y1="195.50" x2="312.50" y2="195.50" stroke="#666" stroke-width="1"/>
<text transform="translate(301.10,195.30) rotate(-90)" font-size="8.6" text-anchor="middle">0</text>
<line x1="306.90" y1="158.30" x2="312.50" y2="158.30" stroke="#666" stroke-width="1"/>
<text transform="translate(301.10,158.10) rotate(-90)" font-size="8.6" text-anchor="middle">2</text>
<line x1="306.90" y1="121.10" x2="312.50" y2="121.10" stroke="#666" stroke-width="1"/>
<text transform="translate(301.10,120.90) rotate(-90)" font-size="8.6" text-anchor="middle">4</text>
<line x1="306.90" y1="83.90" x2="312.50" y2="83.90" stroke="#666" stroke-width="1"/>
<text transform="translate(301.10,83.70) rotate(-90)" font-size="8.6" text-anchor="middle">6</text>
<line x1="306.90" y1="46.70" x2="312.50" y2="46.70" stroke="#666" stroke-width="1"/>
<text transform="translate(301.10,46.50) rotate(-90)" font-size="8.6" text-anchor="middle">8</text>
<line x1="306.90" y1="9.50" x2="312.50" y2="9.50" stroke="#666" stroke-width="1"/>
<text transform="translate(301.10,9.30) rotate(-90)" font-size="8.6" text-anchor="middle">10</text>
<text x="429.10" y="237.8" font-size="9" text-anchor="middle">BS</text>
<text transform="translate(286.80,101.10) rotate(-90)" font-size="8.8" text-anchor="middle">2nd Order Moment of Dist.</text>
</svg>
</body></html>
